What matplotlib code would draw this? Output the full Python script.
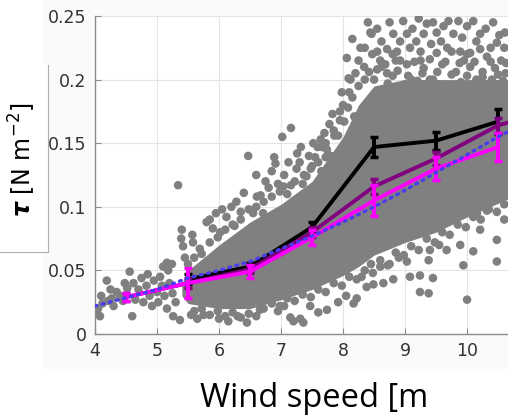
import matplotlib
matplotlib.use("Agg")
import matplotlib.pyplot as plt
from matplotlib.lines import Line2D
from matplotlib.patches import Rectangle

# bin centres and bin-averaged stress with error bars
bins_black = [5.5, 6.5, 7.5, 8.5, 9.5, 10.5]
tau_black = [0.043, 0.053, 0.084, 0.147, 0.152, 0.167]
err_black = [0.004, 0.003, 0.004, 0.008, 0.007, 0.010]

bins_purple = [4.5, 5.5, 6.5, 7.5, 8.5, 9.5, 10.5, 11.5]
tau_purple = [0.029, 0.040, 0.051, 0.080, 0.116, 0.138, 0.164, 0.178]
err_purple = [0.003, 0.004, 0.003, 0.004, 0.006, 0.005, 0.006, 0.006]

bins_magenta = [4.5, 5.5, 6.5, 7.5, 8.5, 9.5, 10.5]
tau_magenta = [0.029, 0.040, 0.049, 0.076, 0.105, 0.130, 0.147]
err_magenta = [0.003, 0.012, 0.005, 0.006, 0.012, 0.009, 0.011]

# fitted curve (dotted blue)
fit_wind = [4.0, 5.0, 5.5, 6.0, 6.5, 7.0, 7.5, 8.0, 8.5, 9.0, 9.5, 10.0, 10.5, 10.7]
fit_tau = [0.022, 0.035, 0.044, 0.050, 0.057, 0.067, 0.077, 0.088, 0.100, 0.113, 0.127,
           0.141, 0.155, 0.160]

# dense core of the scatter cloud
core_wind = [5.4, 5.5, 6.0, 6.5, 7.0, 7.5, 8.0, 8.25, 8.5, 9.0, 9.5, 10.0, 10.7]
core_hi = [0.040, 0.050, 0.070, 0.088, 0.102, 0.120, 0.155, 0.180, 0.195, 0.200, 0.200, 0.200, 0.200]
core_lo = [0.030, 0.024, 0.020, 0.020, 0.027, 0.035, 0.046, 0.053, 0.062, 0.072, 0.080, 0.092, 0.107]

# individual observations outside the core
obs = [
    (4.02, 0.018), (4.05, 0.020), (4.08, 0.014), (4.10, 0.030), (4.12, 0.024), (4.19, 0.042),
    (4.21, 0.026), (4.25, 0.035), (4.27, 0.028), (4.30, 0.022), (4.35, 0.033), (4.40, 0.030),
    (4.45, 0.026), (4.48, 0.040), (4.52, 0.036), (4.56, 0.049), (4.60, 0.014), (4.62, 0.040),
    (4.65, 0.027), (4.70, 0.035), (4.75, 0.044), (4.78, 0.025), (4.83, 0.038), (4.85, 0.047),
    (4.88, 0.030), (4.92, 0.022), (4.95, 0.042), (5.00, 0.033), (5.02, 0.025), (5.05, 0.045),
    (5.08, 0.038), (5.10, 0.053), (5.12, 0.030), (5.16, 0.020), (5.16, 0.056), (5.18, 0.050),
    (5.20, 0.040), (5.24, 0.055), (5.25, 0.032), (5.26, 0.014), (5.30, 0.025), (5.37, 0.011),
    (5.34, 0.117), (5.40, 0.082), (5.39, 0.075), (5.42, 0.069), (5.57, 0.078), (5.58, 0.072),
    (5.69, 0.067), (5.45, 0.060), (5.50, 0.055), (5.55, 0.015), (5.65, 0.012), (5.75, 0.015),
    (5.80, 0.088), (5.85, 0.090), (5.90, 0.083), (5.95, 0.095), (6.05, 0.098), (6.12, 0.092),
    (6.20, 0.100), (6.28, 0.104), (6.35, 0.096), (6.40, 0.111), (6.47, 0.140), (6.55, 0.095),
    (6.61, 0.108), (6.67, 0.109), (6.71, 0.095), (6.02, 0.080), (6.25, 0.085), (6.00, 0.012),
    (6.15, 0.010), (6.30, 0.014), (6.45, 0.009), (6.66, 0.019),
    (6.89, 0.139), (6.91, 0.134), (7.02, 0.155), (7.16, 0.162), (6.80, 0.115), (6.95, 0.118),
    (7.04, 0.116), (7.16, 0.117), (7.26, 0.142), (7.32, 0.147), (7.37, 0.125), (7.41, 0.124),
    (7.55, 0.139), (7.59, 0.147), (7.64, 0.153), (7.66, 0.147), (7.72, 0.139), (7.74, 0.145),
    (7.83, 0.173), (7.86, 0.156), (7.90, 0.138), (7.92, 0.156), (7.25, 0.130), (7.50, 0.132),
    (7.65, 0.128), (7.80, 0.140),
    (7.05, 0.125), (7.12, 0.135), (7.30, 0.135), (7.45, 0.140), (7.52, 0.150), (7.70, 0.158),
    (7.78, 0.165), (7.95, 0.175), (7.98, 0.190), (8.12, 0.200), (8.25, 0.215), (8.15, 0.232),
    (6.75, 0.120), (6.60, 0.125), (6.85, 0.128),
    (7.15, 0.013), (7.20, 0.010), (7.31, 0.012), (7.36, 0.009), (7.47, 0.022), (7.60, 0.017),
    (7.74, 0.019), (7.92, 0.025), (8.05, 0.030), (8.17, 0.024), (8.22, 0.028), (6.95, 0.018),
    (7.05, 0.022),
    (8.00, 0.180), (8.02, 0.167), (8.06, 0.217), (8.09, 0.201), (8.10, 0.190), (8.18, 0.171),
    (8.22, 0.171), (8.34, 0.210), (8.20, 0.205), (8.28, 0.225), (8.44, 0.237), (8.46, 0.236),
    (8.47, 0.220), (8.55, 0.222), (8.60, 0.215), (8.71, 0.224), (8.71, 0.205),
    (8.81, 0.236), (8.87, 0.222), (8.97, 0.246), (9.03, 0.236), (9.08, 0.225), (9.25, 0.222),
    (9.30, 0.236), (9.35, 0.244), (9.51, 0.237), (9.51, 0.221), (9.68, 0.225), (9.70, 0.246),
    (9.78, 0.236), (9.86, 0.246), (9.89, 0.222), (10.00, 0.242), (10.05, 0.221), (10.10, 0.246),
    (10.21, 0.236), (10.21, 0.224), (10.38, 0.225), (10.48, 0.229), (10.61, 0.237), (10.55, 0.215),
    (8.35, 0.225), (8.40, 0.245), (8.55, 0.240), (8.62, 0.230), (8.75, 0.245), (8.80, 0.220),
    (8.92, 0.230), (9.12, 0.240), (9.18, 0.230), (9.22, 0.248), (9.42, 0.228), (9.45, 0.245),
    (9.58, 0.230), (9.62, 0.242), (9.75, 0.222), (9.92, 0.233), (9.95, 0.215), (10.15, 0.230),
    (10.30, 0.240), (10.32, 0.218), (10.42, 0.245), (10.52, 0.235), (10.60, 0.225),
    (10.40, 0.200), (9.10, 0.200), (8.85, 0.215), (9.55, 0.195), (10.00, 0.220), (9.25, 0.215),
    (8.62, 0.210), (8.88, 0.207), (9.03, 0.212), (9.30, 0.209), (9.40, 0.200), (9.60, 0.212),
    (9.82, 0.206), (10.05, 0.210), (10.25, 0.202), (10.45, 0.209), (10.62, 0.205),
    (8.50, 0.200), (8.72, 0.197), (8.98, 0.196), (9.20, 0.199), (9.45, 0.200), (9.68, 0.196),
    (9.90, 0.198), (10.15, 0.200), (10.35, 0.196), (10.58, 0.199),
    (8.38, 0.037), (8.49, 0.039), (8.60, 0.053), (8.65, 0.040), (8.81, 0.043), (8.75, 0.055),
    (8.90, 0.060), (9.03, 0.057), (9.08, 0.045), (9.24, 0.046), (9.24, 0.033), (9.38, 0.032),
    (9.38, 0.058), (9.40, 0.066), (9.45, 0.044), (9.55, 0.070), (9.67, 0.066), (9.89, 0.070),
    (9.94, 0.054), (10.00, 0.027), (10.10, 0.065), (10.16, 0.095), (10.21, 0.082),
    (10.32, 0.097), (10.48, 0.057), (10.48, 0.074), (10.60, 0.090), (8.30, 0.045), (8.45, 0.055),
    # points hugging the upper edge of the core
    (5.60, 0.060), (5.72, 0.063), (5.85, 0.072), (5.98, 0.076), (6.10, 0.082), (6.22, 0.086),
    (6.35, 0.090), (6.48, 0.098), (6.60, 0.100), (6.72, 0.104), (6.85, 0.108), (6.98, 0.112),
    (7.10, 0.110), (7.22, 0.120), (7.35, 0.118), (7.48, 0.130), (7.60, 0.135), (7.72, 0.150),
    (7.85, 0.160), (7.95, 0.168), (8.08, 0.178), (8.15, 0.186), (8.25, 0.195), (8.35, 0.200),
    (8.42, 0.206), (8.55, 0.208), (8.68, 0.212), (8.80, 0.203), (8.92, 0.215), (9.05, 0.203),
    (9.15, 0.214), (9.28, 0.205), (9.40, 0.216), (9.52, 0.206), (9.65, 0.214), (9.75, 0.204),
    (9.88, 0.213), (10.00, 0.203), (10.12, 0.214), (10.25, 0.206), (10.38, 0.214), (10.50, 0.204),
    (10.63, 0.213),
    # points hugging the lower edge of the core
    (5.60, 0.018), (5.72, 0.020), (5.85, 0.015), (5.98, 0.018), (6.10, 0.014), (6.22, 0.017),
    (6.35, 0.013), (6.48, 0.016), (6.60, 0.014), (6.72, 0.020), (6.85, 0.024), (6.98, 0.022),
    (7.10, 0.028), (7.22, 0.026), (7.35, 0.031), (7.48, 0.029), (7.60, 0.035), (7.72, 0.033),
    (7.85, 0.040), (7.98, 0.038), (8.10, 0.045), (8.22, 0.043), (8.35, 0.050), (8.48, 0.048),
    (8.60, 0.058), (8.72, 0.054), (8.85, 0.064), (8.98, 0.062), (9.10, 0.069), (9.22, 0.066),
    (9.35, 0.075), (9.48, 0.072), (9.60, 0.080), (9.72, 0.078), (9.85, 0.086), (9.98, 0.084),
    (10.10, 0.092), (10.22, 0.090), (10.35, 0.098), (10.48, 0.096), (10.60, 0.102),
]
obs_wind = [p[0] for p in obs]
obs_tau = [p[1] for p in obs]

x_ticks = [4, 5, 6, 7, 8, 9, 10]
y_ticks = [0, 0.05, 0.1, 0.15, 0.2, 0.25]
y_ticklabels = ["0", "0.05", "0.1", "0.15", "0.2", "0.25"]

fig = plt.figure(figsize=(5.08, 4.18), dpi=100)
fig.patch.set_facecolor("white")

# light panel behind tick labels + pasted label box
fig.add_artist(Rectangle((43 / 508, 1 - 369 / 418), 1, 369 / 418, transform=fig.transFigure,
                         facecolor="#fafafa", edgecolor="none", zorder=0))
fig.add_artist(Rectangle((0, 1 - 252 / 418), 48 / 508, (252 - 65) / 418, transform=fig.transFigure,
                         facecolor="white", edgecolor="none", zorder=0.5))
fig.add_artist(Line2D([48 / 508, 48 / 508], [1 - 65 / 418, 1 - 252 / 418], transform=fig.transFigure,
                      color="#b0b0b0", lw=0.8))
fig.add_artist(Line2D([0, 48 / 508], [1 - 252 / 418, 1 - 252 / 418], transform=fig.transFigure,
                      color="#b0b0b0", lw=0.8))

ax = fig.add_axes([95 / 508, 84 / 418, 1 - 95 / 508, 318 / 418])
ax.set_facecolor("white")
ax.set_zorder(1)

gray = "#808080"
ax.fill_between(core_wind, core_lo, core_hi, color=gray, lw=0, zorder=2)
ax.scatter(obs_wind, obs_tau, s=38, color=gray, edgecolors="none", zorder=2)

ax.errorbar(bins_black, tau_black, yerr=err_black, color="black", lw=2.8, elinewidth=2.8,
            capsize=3, capthick=2.5, zorder=4)
ax.errorbar(bins_purple, tau_purple, yerr=err_purple, color="#800080", lw=2.8, elinewidth=2.8,
            capsize=3, capthick=2.5, zorder=5)
ax.errorbar(bins_magenta, tau_magenta, yerr=err_magenta, color="#ff00ff", lw=2.8, elinewidth=2.8,
            capsize=3, capthick=2.5, zorder=6)
ax.plot(fit_wind, fit_tau, color="#4a3cf0", lw=2.4, linestyle=(0, (0.6, 1.6)),
        dash_capstyle="round", zorder=7)

ax.set_xlim(4, 10.66)
ax.set_ylim(0, 0.25)
ax.set_xticks(x_ticks)
ax.set_yticks(y_ticks)
ax.set_yticklabels(y_ticklabels)
ax.grid(True, color="#e4e4e4", lw=0.8, zorder=0)
ax.set_axisbelow(True)
for side in ["top", "right"]:
    ax.spines[side].set_visible(False)
for side in ["left", "bottom"]:
    ax.spines[side].set_color("#8c8c8c")
    ax.spines[side].set_linewidth(1.0)
ax.tick_params(direction="in", length=4, width=0.8, color="#8c8c8c",
               labelsize=12.5, labelcolor="#333333", pad=6)
for lab in ax.get_xticklabels() + ax.get_yticklabels():
    lab.set_family("DejaVu Sans")

fig.text(22 / 508, 1 - 160 / 418, r"$\boldsymbol{\tau}$ [N m$^{-2}$]", rotation=90,
         ha="center", va="center", fontsize=17, family="DejaVu Sans", color="black")
fig.text(200 / 508, 11 / 418, "Wind speed [m", ha="left", va="baseline",
         fontsize=23.5, family="Open Sans", color="black")

fig.savefig("out.png", dpi=100)
